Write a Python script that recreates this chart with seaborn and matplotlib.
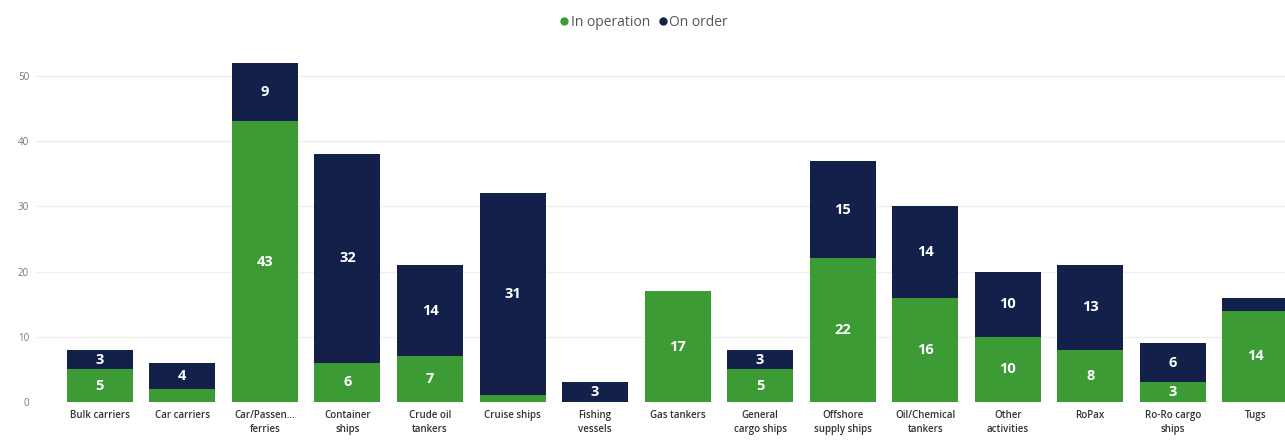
import matplotlib
matplotlib.use("Agg")
import matplotlib.pyplot as plt
from matplotlib.lines import Line2D
import seaborn as sns
import pandas as pd

categories = ["Bulk carriers", "Car carriers", "Car/Passen...\nferries", "Container\nships",
              "Crude oil\ntankers", "Cruise ships", "Fishing\nvessels", "Gas tankers",
              "General\ncargo ships", "Offshore\nsupply ships", "Oil/Chemical\ntankers",
              "Other\nactivities", "RoPax", "Ro-Ro cargo\nships", "Tugs"]
in_operation = [5, 2, 43, 6, 7, 1, 0, 17, 5, 22, 16, 10, 8, 3, 14]
on_order = [3, 4, 9, 32, 14, 31, 3, 0, 3, 15, 14, 10, 13, 6, 2]

green = "#3d9b35"
navy = "#12204a"

df = pd.DataFrame({"category": categories, "op": in_operation, "order": on_order})
df["total"] = df["op"] + df["order"]

sns.set_style("white")
plt.rcParams["font.family"] = ["Open Sans", "DejaVu Sans"]

fig = plt.figure(figsize=(12.85, 4.43), dpi=100)
ax = fig.add_axes([0.027, 0.0925, 0.973, 0.81])

# stacked: total in navy, in-operation drawn over it in green
sns.barplot(data=df, x="category", y="total", color=navy, width=0.8, ax=ax,
            saturation=1, linewidth=0)
sns.barplot(data=df, x="category", y="op", color=green, width=0.8, ax=ax,
            saturation=1, linewidth=0)

for i, row in df.iterrows():
    if row["op"] >= 3:
        ax.text(i, row["op"] / 2, str(row["op"]), ha="center", va="center",
                color="white", fontsize=10.5, fontweight="bold")
    if row["order"] >= 3:
        ax.text(i, row["op"] + row["order"] / 2, str(row["order"]), ha="center", va="center",
                color="white", fontsize=10.5, fontweight="bold")

ax.set_xlim(-0.79, 14.36)
ax.set_ylim(0, 55)
ax.set_yticks([0, 10, 20, 30, 40, 50])
ax.yaxis.grid(True, color="#efefef", linewidth=1)
ax.set_axisbelow(True)
ax.set_xlabel("")
ax.set_ylabel("")
for s in ax.spines.values():
    s.set_visible(False)
ax.tick_params(axis="y", labelsize=7, colors="#777777", length=0, pad=4)
ax.tick_params(axis="x", labelsize=7, colors="#333333", length=0, pad=6)
for t in ax.get_xticklabels():
    t.set_linespacing(1.3)
    t.set_fontweight("semibold")

handles = [Line2D([], [], marker="o", linestyle="", color=green, markersize=5),
           Line2D([], [], marker="o", linestyle="", color=navy, markersize=5)]
fig.legend(handles, ["In operation", "On order"], loc="center", bbox_to_anchor=(0.5, 0.95),
           ncol=2, frameon=False, fontsize=10, handletextpad=0.0, columnspacing=0.4,
           handlelength=1.0, labelcolor="#555555")

fig.savefig("out.png", dpi=100)
